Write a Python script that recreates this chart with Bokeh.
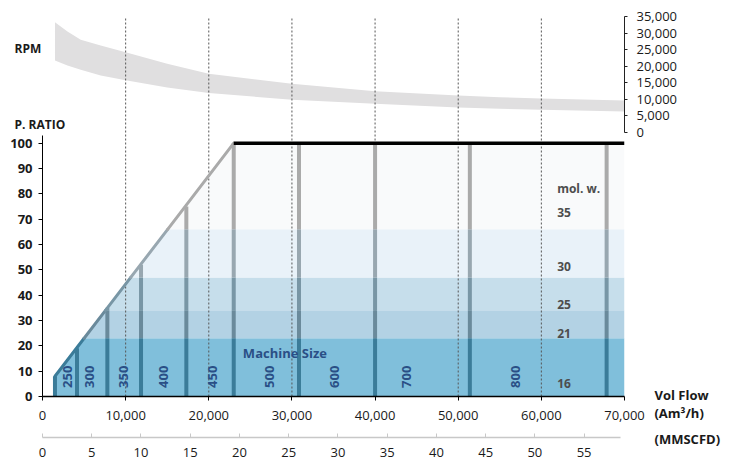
import math
from bokeh.plotting import figure
from bokeh.models import Range1d, LinearAxis, FixedTicker, NumeralTickFormatter, Label
from bokeh.layouts import column
from bokeh.core.properties import value
from bokeh.embed import file_html
from bokeh.resources import INLINE

FONT = "Open Sans"
INK = "#1a1a1a"

# ---------------- data ----------------
flow_ticks = [0, 10000, 20000, 30000, 40000, 50000, 60000, 70000]
mmscfd_ticks = [0, 5, 10, 15, 20, 25, 30, 35, 40, 45, 50, 55]
ratio_ticks = [0, 10, 20, 30, 40, 50, 60, 70, 80, 90, 100]
rpm_ticks = [0, 5000, 10000, 15000, 20000, 25000, 30000, 35000]

rpm_flow = [1500, 3000, 4600, 7000, 10000, 15000, 20000, 30000, 40000, 50000, 55000, 60000, 70000]
rpm_max = [33400, 30600, 28100, 26400, 24300, 20800, 17800, 14800, 12500, 11200, 10700, 10300, 9700]
rpm_min = [21800, 20300, 19000, 17300, 15800, 13600, 12000, 9900, 8700, 7600, 7200, 6900, 6400]

mol_weights = ["16", "21", "25", "30", "35"]
band_top = [23, 34, 47, 66, 100]
mol_label_ratio = [5.3, 24.9, 36.3, 51.3, 72.8]
mol_label_flow = 61900

machine_flow = [1500, 4150, 7800, 11850, 17300, 23000, 30850, 40000, 51400, 67850]
machine_ratio = [8, 19, 35, 52, 75, 100, 100, 100, 100, 100]
machine_sizes = ["250", "300", "350", "400", "450", "500", "600", "700", "800"]
machine_label_flow = [2970, 5650, 9740, 14550, 20450, 27300, 35100, 43750, 56900]
machine_label_ratio = 7.8

side_titles = ["RPM", "P. RATIO"]
side_title_ratio = [137.4, 107.4]
side_title_flow = -3370
flow_titles = ["Vol Flow", "(Am³/h)"]
flow_title_ratio = [0.4, -6.7]
flow_title_flow = 73600

flow_max = 70000
mmscfd_max = 59.1

# ---------------- styles ----------------
band_colors = ["#80bfdb", "#b3d2e4", "#c6deeb", "#e9f2f9", "#f9fafb"]
bar_colors = ["#3b7c99", "#6a8a9b", "#7896a5", "#98a7b0", "#aaaaaa"]
NAVY = "#2a4f86"

# ---------------- main figure ----------------
p1 = figure(width=734, height=426, x_range=Range1d(0, flow_max), y_range=Range1d(0, 150),
            output_backend="svg", toolbar_location=None,
            min_border_left=42, min_border_right=110, min_border_top=16, min_border_bottom=30)
p1.grid.visible = False
p1.outline_line_color = None
p1.extra_y_ranges = {"rpm": Range1d(-80000, 35150)}

# envelope geometry (from first machine to the first one reaching 100)
x0, y0 = machine_flow[0], machine_ratio[0]
knee = machine_ratio.index(100)
x1, y1 = machine_flow[knee], machine_ratio[knee]


def slant_x(y):
    if y <= y0:
        return x0
    return x0 + (y - y0) * (x1 - x0) / (y1 - y0)


# mol. weight bands clipped by the envelope
bxs, bys = [], []
lo = 0
for top in band_top:
    px = [slant_x(lo), flow_max, flow_max, slant_x(top)]
    py = [lo, lo, top, top]
    if lo < y0 < top:
        px.append(x0)
        py.append(y0)
    bxs.append(px)
    bys.append(py)
    lo = top
p1.patches(bxs, bys, fill_color=band_colors, line_color=None)

# RPM band
p1.varea(x=rpm_flow, y1=rpm_min, y2=rpm_max, y_range_name="rpm", fill_color="#e0dfe0")

# dotted verticals
vx = flow_ticks[1:-1]
p1.segment(x0=vx, y0=[0] * len(vx), x1=vx, y1=[150] * len(vx),
           line_color="#555555", line_width=1, line_dash="2 2")

# machine bars, coloured per band they pass through
sx, sy0, sy1, sc = [], [], [], []
for x, h in zip(machine_flow, machine_ratio):
    lo = 0
    for top, c in zip(band_top, bar_colors):
        if h > lo:
            sx.append(x)
            sy0.append(lo)
            sy1.append(min(h, top))
            sc.append(c)
        lo = top
p1.segment(x0=sx, y0=sy0, x1=sx, y1=sy1, line_color=sc, line_width=4)

# slanted envelope line
ys_break = [y0] + [t for t in band_top if y0 < t < y1] + [y1]
lx0, ly0, lx1, ly1, lc = [], [], [], [], []
for a, b in zip(ys_break[:-1], ys_break[1:]):
    idx = next(i for i, t in enumerate(band_top) if t >= b)
    lx0.append(slant_x(a)); ly0.append(a)
    lx1.append(slant_x(b)); ly1.append(b)
    lc.append(bar_colors[idx])
p1.segment(x0=lx0, y0=ly0, x1=lx1, y1=ly1, line_color=lc, line_width=3, line_cap="round")

# top limit line
p1.line([x1, flow_max], [y1, y1], line_color="black", line_width=3.5)

# machine size labels
p1.text(x=machine_label_flow, y=machine_label_ratio, text=machine_sizes, angle=math.pi / 2,
        text_align="center", text_baseline="middle", text_font=value(FONT),
        text_font_style="bold", text_font_size="13px", text_color=NAVY)
p1.text(x=[24100], y=[17], text=["Machine Size"], text_align="left", text_baseline="middle",
        text_font=value(FONT), text_font_style="bold", text_font_size="13px", text_color=NAVY)

# mol weight labels
p1.text(x=mol_label_flow, y=mol_label_ratio, text=mol_weights, text_align="left",
        text_baseline="middle", text_font=value(FONT), text_font_style="bold",
        text_font_size="12px", text_color="#4d4d4d")
p1.text(x=[mol_label_flow], y=[82.1], text=["mol. w."], text_align="left", text_baseline="middle",
        text_font=value(FONT), text_font_style="bold", text_font_size="12px", text_color="#4d4d4d")

# titles outside the frame (overlay level so they are not clipped)
p1.text(x=side_title_flow, y=side_title_ratio, text=side_titles, text_align="left",
        text_baseline="middle", text_font=value(FONT), text_font_style="bold",
        text_font_size="12px", text_color=INK, level="overlay")
p1.text(x=flow_title_flow, y=flow_title_ratio, text=flow_titles, text_align="left",
        text_baseline="middle", text_font=value(FONT), text_font_style="bold",
        text_font_size="13px", text_color=INK, level="overlay")

# axes
xa = p1.xaxis[0]
xa.ticker = FixedTicker(ticks=flow_ticks)
xa.formatter = NumeralTickFormatter(format="0,0")
xa.axis_line_color = "black"
xa.axis_line_width = 1.5
xa.major_tick_line_color = "black"
xa.major_tick_in = 0
xa.major_tick_out = 4
xa.minor_tick_line_color = None
xa.major_label_standoff = 10
xa.major_label_text_font = FONT
xa.major_label_text_font_size = "13px"
xa.major_label_text_color = INK

ya = p1.yaxis[0]
ya.ticker = FixedTicker(ticks=ratio_ticks)
ya.bounds = (0, 103)
ya.axis_line_color = "black"
ya.major_tick_line_color = "black"
ya.major_tick_in = 0
ya.major_tick_out = 4
ya.minor_tick_line_color = None
ya.major_label_standoff = 6
ya.major_label_text_font = FONT
ya.major_label_text_font_style = "bold"
ya.major_label_text_font_size = "13px"
ya.major_label_text_color = INK

ra = LinearAxis(y_range_name="rpm", ticker=FixedTicker(ticks=rpm_ticks),
                formatter=NumeralTickFormatter(format="0,0"), bounds=(0, 35000))
ra.axis_line_color = "#222222"
ra.major_tick_line_color = "#222222"
ra.major_tick_in = 0
ra.major_tick_out = 3
ra.minor_tick_line_color = None
ra.major_label_standoff = 9
ra.major_label_text_font = FONT
ra.major_label_text_font_size = "13px"
ra.major_label_text_color = INK
p1.add_layout(ra, "right")

# ---------------- MMSCFD axis figure ----------------
p2 = figure(width=734, height=34, x_range=Range1d(0, mmscfd_max), y_range=Range1d(0, 1),
            output_backend="svg", toolbar_location=None, y_axis_location=None,
            min_border_left=42, min_border_right=110, min_border_top=0, min_border_bottom=23)
p2.grid.visible = False
p2.outline_line_color = None
xb = p2.xaxis[0]
xb.ticker = FixedTicker(ticks=mmscfd_ticks)
xb.bounds = (0, 58.7)
xb.axis_line_color = "#c8c8c8"
xb.axis_line_width = 1.5
xb.major_tick_line_color = "#c8c8c8"
xb.major_tick_in = 4
xb.major_tick_out = 0
xb.minor_tick_line_color = None
xb.major_label_standoff = 10
xb.major_label_text_font = FONT
xb.major_label_text_font_size = "13px"
xb.major_label_text_color = INK
p2.add_layout(Label(x=62.15, y=-0.1, text="(MMSCFD)", text_font=FONT, text_font_style="bold",
                    text_font_size="13px", text_color=INK, text_baseline="middle"), "right")

p = column(p1, p2, spacing=0)
open("out.html", "w").write(file_html(p, INLINE))
